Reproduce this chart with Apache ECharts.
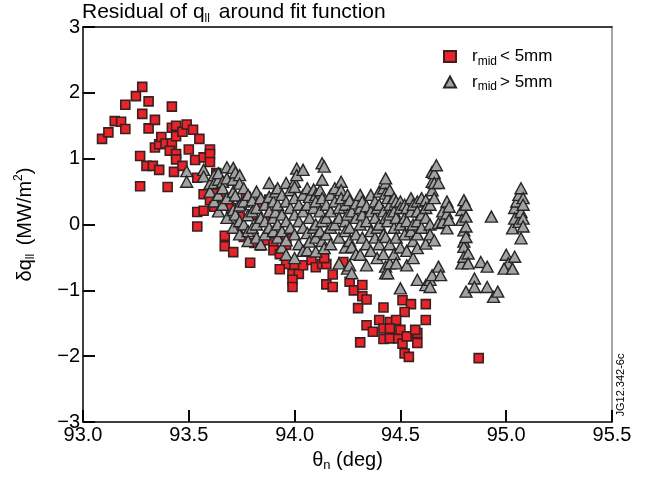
<!DOCTYPE html>
<html>
<head>
<meta charset="utf-8">
<script src="https://cdn.jsdelivr.net/npm/echarts@6/dist/echarts.min.js"></script>
<style>html,body{margin:0;padding:0;background:#fff}#c{width:647px;height:481px}</style>
</head>
<body>
<div id="c"></div>
<script>
// Axis ranges / tick step
const xRange = [93.0, 95.5, 0.5];
const yRange = [-3, 3, 1];

// r_mid < 5mm  (theta_n [deg], delta q [MW/m^2])
const redPoints = [
[93.09,1.30],[93.12,1.40],[93.15,1.57],[93.18,1.56],[93.20,1.82],[93.20,1.45],[93.25,1.95],[93.28,2.09],
[93.31,1.87],[93.28,1.68],[93.31,1.46],[93.34,1.59],[93.42,1.79],[93.27,1.04],[93.27,0.58],[93.30,0.89],
[93.33,0.89],[93.36,0.83],[93.34,1.17],[93.36,1.22],[93.37,1.33],[93.39,1.23],[93.42,1.23],[93.41,1.12],
[93.42,1.47],[93.44,1.50],[93.44,1.34],[93.44,1.07],[93.44,0.99],[93.43,0.80],[93.40,0.57],[93.47,1.41],
[93.47,0.89],[93.49,1.52],[93.50,1.14],[93.52,1.44],[93.53,0.98],[93.55,1.30],[93.54,0.71],[93.57,1.02],
[93.60,1.14],[93.60,1.07],[93.60,0.95],[93.63,0.78],[93.57,0.46],[93.61,0.42],[93.66,0.41],[93.62,0.48],
[93.60,0.37],[93.69,0.37],[93.70,0.25],[93.54,0.19],[93.57,0.21],[93.62,0.27],[93.54,-0.03],[93.77,0.42],
[93.84,0.33],[93.74,0.12],[93.76,-0.19],[93.67,-0.17],[93.67,-0.33],[93.71,-0.42],[93.79,-0.58],[93.81,-0.28],
[93.84,-0.32],[93.87,-0.24],[93.90,-0.27],[93.90,-0.39],[93.93,-0.45],[93.96,-0.21],[93.96,-0.31],[93.96,-0.60],
[93.93,-0.68],[94.00,-0.63],[93.99,-0.75],[94.02,-0.75],[93.99,-0.84],[93.99,-0.95],[94.04,-0.62],[94.08,-0.54],
[94.10,-0.65],[94.13,-0.60],[94.15,-0.60],[94.14,-0.51],[94.18,-0.76],[94.15,-0.91],[94.18,-0.95],[94.23,-0.57],
[94.26,-0.87],[94.28,-1.00],[94.32,-0.92],[94.32,-1.09],[94.34,-1.14],[94.30,-1.27],[94.42,-1.26],[94.51,-1.15],
[94.55,-1.21],[94.62,-1.21],[94.62,-1.45],[94.52,-1.33],[94.34,-1.53],[94.40,-1.45],[94.45,-1.48],[94.48,-1.45],
[94.42,-1.58],[94.45,-1.58],[94.37,-1.63],[94.42,-1.74],[94.45,-1.73],[94.49,-1.73],[94.50,-1.60],[94.51,-1.81],
[94.53,-1.70],[94.58,-1.65],[94.57,-1.60],[94.58,-1.80],[94.52,-1.96],[94.54,-2.01],[94.31,-1.79],[94.87,-2.03],
[93.80,0.15],[93.86,0.05],[93.92,0.22],[93.88,0.38],[93.75,0.30],[93.73,-0.05]
];

// r_mid > 5mm
const grayPoints = [
[93.49,0.81],[93.49,0.65],[93.57,0.83],[93.57,0.73],[93.60,0.62],[93.60,0.50],[93.62,0.75],[93.62,0.63],[93.62,0.35],
[93.64,0.68],[93.64,0.78],[93.64,0.45],[93.64,0.20],[93.66,0.65],[93.66,0.55],[93.66,0.30],[93.68,0.87],[93.68,0.70],
[93.68,0.40],[93.68,0.10],[93.71,0.86],[93.71,0.68],[93.71,0.50],[93.71,0.22],[93.71,-0.05],[93.72,0.79],[93.72,0.44],
[93.72,0.15],[93.74,0.75],[93.74,0.62],[93.74,0.29],[93.74,0.05],[93.74,-0.15],[93.76,0.55],[93.76,0.35],[93.76,0.00],
[93.78,0.14],[93.78,0.45],[93.78,-0.10],[93.78,-0.25],[93.80,0.37],[93.80,0.20],[93.80,-0.05],[93.82,0.25],[93.82,0.50],
[93.82,0.00],[93.82,-0.20],[93.84,0.10],[93.84,0.40],[93.84,-0.30],[93.86,0.30],[93.86,0.05],[93.86,-0.15],[93.88,0.63],
[93.88,0.42],[93.88,0.20],[93.88,-0.05],[93.90,0.35],[93.90,0.10],[93.90,-0.10],[93.91,0.19],[93.91,0.50],[93.92,0.55],
[93.92,0.30],[93.92,0.00],[93.92,-0.20],[93.94,0.45],[93.94,0.15],[93.94,-0.10],[93.94,-0.35],[93.96,0.63],[93.96,0.35],
[93.96,0.05],[93.96,-0.24],[93.96,-0.46],[93.98,0.52],[93.98,0.25],[93.98,-0.05],[94.00,0.65],[94.00,0.57],[94.00,0.40],
[94.00,0.15],[94.00,-0.15],[94.00,-0.51],[94.01,0.85],[94.01,0.75],[94.02,0.30],[94.02,0.05],[94.02,-0.30],[94.04,0.83],
[94.04,0.45],[94.04,0.20],[94.04,-0.05],[94.04,-0.40],[94.06,0.55],[94.06,0.30],[94.06,-0.13],[94.06,-0.39],[94.07,0.42],
[94.07,0.10],[94.07,-0.26],[94.09,0.53],[94.09,0.25],[94.09,-0.05],[94.10,0.45],[94.10,0.35],[94.10,0.00],[94.10,-0.41],
[94.10,-0.20],[94.12,0.52],[94.12,0.20],[94.12,-0.10],[94.13,0.68],[94.13,0.93],[94.13,0.40],[94.13,0.05],[94.13,-0.25],
[94.14,0.88],[94.14,-0.36],[94.15,0.30],[94.15,0.10],[94.15,-0.15],[94.17,0.45],[94.17,0.20],[94.17,-0.05],[94.17,-0.30],
[94.19,0.35],[94.19,0.55],[94.19,0.00],[94.21,0.25],[94.21,0.10],[94.21,-0.20],[94.21,-0.59],[94.22,0.65],[94.22,0.52],
[94.22,0.40],[94.24,0.30],[94.24,0.05],[94.24,-0.10],[94.24,-0.35],[94.25,0.45],[94.25,0.15],[94.25,-0.67],[94.26,0.37],
[94.26,-0.05],[94.26,-0.62],[94.26,-0.25],[94.27,0.20],[94.27,-0.34],[94.27,-0.74],[94.29,0.32],[94.29,0.10],[94.29,-0.15],
[94.29,-0.45],[94.31,0.45],[94.31,0.25],[94.31,0.00],[94.31,-0.46],[94.32,0.35],[94.32,0.15],[94.32,-0.20],[94.34,0.28],
[94.34,0.05],[94.34,-0.30],[94.34,-0.62],[94.36,0.45],[94.36,0.20],[94.36,-0.10],[94.36,-0.40],[94.38,0.35],[94.38,0.10],
[94.38,-0.20],[94.39,0.25],[94.39,-0.05],[94.39,-0.51],[94.40,0.50],[94.40,0.30],[94.40,0.00],[94.40,-0.30],[94.42,0.55],
[94.42,0.20],[94.42,-0.15],[94.42,-0.45],[94.43,0.63],[94.43,0.47],[94.43,0.70],[94.43,0.10],[94.43,-0.19],[94.43,-0.64],
[94.43,-0.74],[94.44,0.40],[94.44,0.05],[94.44,-0.74],[94.45,0.52],[94.45,0.30],[94.45,0.15],[94.45,-0.59],[94.45,-0.30],
[94.47,0.40],[94.47,0.20],[94.47,-0.05],[94.47,-0.45],[94.48,0.35],[94.48,0.10],[94.48,-0.59],[94.48,-0.20],[94.50,0.35],
[94.50,0.25],[94.50,0.00],[94.50,-0.35],[94.50,-0.97],[94.52,0.30],[94.52,0.10],[94.52,-0.15],[94.53,0.25],[94.53,0.05],
[94.53,-0.62],[94.53,-0.40],[94.55,0.40],[94.55,0.20],[94.55,-0.10],[94.56,0.30],[94.56,0.00],[94.56,-0.51],[94.56,-0.25],
[94.58,0.35],[94.58,0.20],[94.58,0.05],[94.58,-0.36],[94.58,-0.84],[94.58,-0.15],[94.60,0.40],[94.60,0.15],[94.60,-0.05],
[94.62,0.37],[94.62,0.25],[94.62,0.10],[94.62,-0.29],[94.62,-0.92],[94.64,0.30],[94.64,0.00],[94.64,-0.84],[94.64,-0.95],
[94.64,-0.15],[94.65,0.80],[94.65,0.65],[94.65,0.52],[94.65,-0.77],[94.66,0.78],[94.66,0.63],[94.66,0.40],[94.66,-0.24],
[94.67,0.90],[94.68,0.63],[94.68,0.02],[94.68,-0.64],[94.69,-0.77],[94.70,0.04],[94.70,0.20],[94.72,0.35],[94.72,0.17],
[94.72,-0.06],[94.73,0.27],[94.73,0.07],[94.79,0.22],[94.79,0.07],[94.79,-0.59],[94.80,0.37],[94.80,-0.09],[94.80,-0.26],
[94.80,-0.34],[94.80,-0.49],[94.81,0.30],[94.81,0.12],[94.81,-0.03],[94.81,-0.19],[94.81,-1.02],[94.82,-0.44],[94.82,-0.59],
[94.85,-0.82],[94.85,-0.95],[94.88,-0.57],[94.91,-0.64],[94.91,-0.95],[94.93,0.12],[94.94,-1.10],[94.96,-1.02],[95.00,-0.46],
[95.01,-0.59],[94.99,-0.67],[95.03,-0.67],[95.03,-0.06],[95.04,-0.49],[95.04,0.25],[95.04,0.09],[95.05,0.35],[95.06,0.45],
[95.06,0.04],[95.07,0.55],[95.07,0.19],[95.07,-0.21],[95.08,0.40],[95.08,0.30],[95.08,0.09],[95.08,-0.03]
];

const FONT = 'Liberation Sans, Arial, Helvetica, sans-serif';
const chart = echarts.init(document.getElementById('c'), null, {renderer: 'canvas'});

function txt(size, extra) {
  return Object.assign({fontFamily: FONT, fontSize: size, color: '#000', fontWeight: 'normal'}, extra || {});
}
const tickOnly = {
  axisLine: {show: false, onZero: false},
  axisTick: {show: true, inside: true, length: 12, lineStyle: {color: '#000', width: 1.6}},
  axisLabel: {show: false}, splitLine: {show: false}
};

chart.setOption({
  animation: false,
  backgroundColor: '#fff',
  title: {
    text: '{a|Residual of q}{s|ll}{a| around fit function}',
    left: 82, top: 0, padding: 0,
    textStyle: {
      fontWeight: 'normal',
      rich: {
        a: txt(21, {lineHeight: 25}),
        s: txt(12, {lineHeight: 12, verticalAlign: 'bottom', padding: [0, 3, 0, 0]})
      }
    }
  },
  legend: {
    left: 438, top: 43, orient: 'vertical', itemGap: 6,
    itemWidth: 12, itemHeight: 11,
    data: ['lt', 'gt'],
    formatter: function (n) { return n === 'lt' ? '{r|r}{s|mid}{a|< 5mm}' : '{r|r}{s|mid}{a|> 5mm}'; },
    textStyle: {
      rich: {
        r: txt(17, {lineHeight: 22, padding: [0, 0, 0, 11]}),
        a: txt(17, {lineHeight: 22}),
        s: txt(12, {lineHeight: 12, verticalAlign: 'bottom', padding: [0, 3, 0, 0]})
      }
    }
  },
  grid: {left: 83, right: 35, top: 27, bottom: 59},
  xAxis: [{
    type: 'value', min: xRange[0], max: xRange[1], interval: xRange[2],
    axisLine: {show: true, onZero: false, lineStyle: {color: '#000', width: 1.5}},
    axisTick: {show: true, inside: true, length: 12, lineStyle: {color: '#000', width: 1.6}},
    axisLabel: {fontFamily: FONT, fontSize: 20, color: '#000', margin: 3,
      formatter: v => v.toFixed(1)},
    splitLine: {show: false},
    name: '{a|θ}{s|n}{a| (deg)}', nameLocation: 'middle', nameGap: 26,
    nameTextStyle: {rich: {
      a: txt(20, {lineHeight: 24}),
      s: txt(13, {lineHeight: 13, verticalAlign: 'bottom'})
    }}
  }, {
    type: 'value', min: xRange[0], max: xRange[1], position: 'top',
    axisLine: {show: true, onZero: false, lineStyle: {color: '#000', width: 1.5}},
    axisTick: {show: false}, axisLabel: {show: false}, splitLine: {show: false}
  }, Object.assign({
    type: 'value', min: xRange[0], max: xRange[1], interval: xRange[2], position: 'bottom'
  }, tickOnly)],
  yAxis: [{
    type: 'value', min: yRange[0], max: yRange[1], interval: yRange[2],
    axisLine: {show: true, onZero: false, lineStyle: {color: '#000', width: 1.5}},
    axisTick: {show: true, inside: true, length: 12, lineStyle: {color: '#000', width: 1.6}},
    axisLabel: {fontFamily: FONT, fontSize: 20, color: '#000', margin: 3,
      formatter: v => String(v).replace('-', '\u2212')},
    splitLine: {show: false},
    name: '{a|δq}{s|ll}{a| (MW/m}{p|2}{a|)}', nameLocation: 'middle', nameGap: 46, nameRotate: 90,
    nameTextStyle: {rich: {
      a: txt(20, {lineHeight: 24}),
      s: txt(12, {lineHeight: 12, verticalAlign: 'bottom', padding: [0, 3, 0, 0]}),
      p: txt(12, {lineHeight: 12, verticalAlign: 'top'})
    }}
  }, {
    type: 'value', min: yRange[0], max: yRange[1], position: 'right',
    axisLine: {show: true, onZero: false, lineStyle: {color: '#888', width: 1.5}},
    axisTick: {show: false}, axisLabel: {show: false}, splitLine: {show: false}
  }, Object.assign({
    type: 'value', min: yRange[0], max: yRange[1], interval: yRange[2], position: 'left'
  }, tickOnly)],
  graphic: [{
    type: 'text', x: 621, y: 385, rotation: Math.PI / 2,
    style: {text: 'JG12.342-6c', fontFamily: FONT, fontSize: 11, fill: '#000', align: 'center', verticalAlign: 'middle'}
  }],
  series: [{
    name: 'lt', type: 'scatter', symbol: 'rect', symbolSize: 9,
    xAxisIndex: 0, yAxisIndex: 0,
    data: redPoints,
    itemStyle: {color: '#e8232a', borderColor: '#3a2020', borderWidth: 1.6, opacity: 1}
  }, {
    name: 'gt', type: 'scatter', symbol: 'triangle', symbolSize: [12, 11],
    xAxisIndex: 0, yAxisIndex: 0,
    data: grayPoints,
    itemStyle: {color: '#a2a2a2', borderColor: '#262626', borderWidth: 1.4, opacity: 1}
  }]
});
</script>
</body>
</html>
